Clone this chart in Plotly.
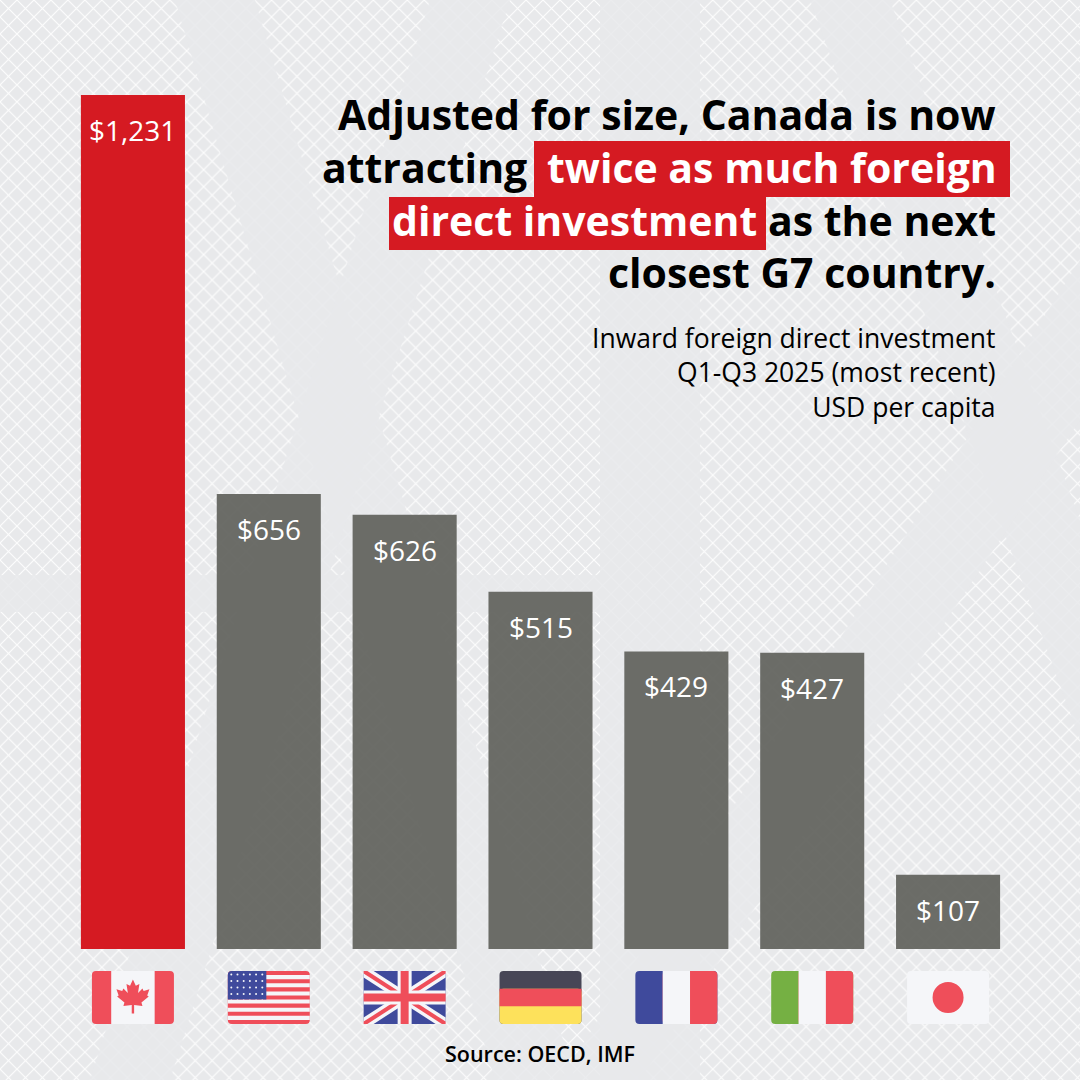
import plotly.graph_objects as go

# data
countries = ["Canada", "United States", "United Kingdom", "Germany", "France", "Italy", "Japan"]
fdi_per_capita = [1231, 656, 626, 515, 429, 427, 107]
highlight = ["Canada"]

title_lines = [
    "Adjusted for size, Canada is now",
    "attracting", "twice as much foreign",
    "direct investment", "as the next",
    "closest G7 country.",
]
subtitle_lines = ["Inward foreign direct investment", "Q1-Q3 2025 (most recent)", "USD per capita"]
source = "Source: OECD, IMF"

RED = "#d51a22"
GREY = "rgb(100,101,96)"
BG = "#e8e9eb"
FONT = "Open Sans"

W = H = 1080
X0, X1 = 65, 1016      # bar area, px
Y0, Y1 = 95, 949
STEP = (X1 - X0) / len(countries)


def fx(px):
    return px / W


def fy(py):
    return 1 - py / H


# flag geometry (px)
FW, FH, FTOP, FR = 82, 53, 971, 4


def pt(i, lx, ly):
    return f"{i + (lx - FW / 2) / STEP:.5f},{fy(FTOP + ly):.5f}"


def poly(i, pts, color):
    p = "M " + " L ".join(pt(i, x, y) for x, y in pts) + " Z"
    return dict(type="path", path=p, xref="x2", yref="paper", fillcolor=color,
                line_width=0, layer="above")


def rrect(i, x0, y0, x1, y1, color, r=(FR, FR, FR, FR)):
    tl, tr, br, bl = r
    p = (f"M {pt(i, x0 + tl, y0)} L {pt(i, x1 - tr, y0)} Q {pt(i, x1, y0)} {pt(i, x1, y0 + tr)} "
         f"L {pt(i, x1, y1 - br)} Q {pt(i, x1, y1)} {pt(i, x1 - br, y1)} "
         f"L {pt(i, x0 + bl, y1)} Q {pt(i, x0, y1)} {pt(i, x0, y1 - bl)} "
         f"L {pt(i, x0, y0 + tl)} Q {pt(i, x0, y0)} {pt(i, x0 + tl, y0)} Z")
    return dict(type="path", path=p, xref="x2", yref="paper", fillcolor=color,
                line_width=0, layer="above")


def rect(i, x0, y0, x1, y1, color):
    return rrect(i, x0, y0, x1, y1, color, r=(0, 0, 0, 0))


def circle(i, cx, cy, rad, color):
    return dict(type="circle", xref="x2", yref="paper",
                x0=i + (cx - rad - FW / 2) / STEP, x1=i + (cx + rad - FW / 2) / STEP,
                y0=fy(FTOP + cy + rad), y1=fy(FTOP + cy - rad),
                fillcolor=color, line_width=0, layer="above")


F_RED, F_BLUE, F_WHITE = "#ef4e5a", "#3f4a9c", "#f5f6f9"
DE_BLACK, DE_YEL, IT_GREEN = "#474656", "#fde15b", "#75b043"

shapes = []

# Canada
shapes += [rrect(0, 0, 0, FW, FH, F_RED), rect(0, FW * 0.235, 0, FW * 0.765, FH, F_WHITE)]
leaf = [(0, 1.0), (0.17, 0.63), (0.38, 0.74), (0.3, 0.2), (0.56, 0.47), (0.63, 0.32),
        (0.97, 0.42), (0.84, 0.06), (0.93, 0.0), (0.5, -0.36), (0.56, -0.56),
        (0.07, -0.5), (0.07, -1.0)]
leaf = leaf + [(-x, y) for x, y in reversed(leaf)]
shapes.append(poly(0, [(FW / 2 + x * 17, FH / 2 - 1 - y * 17) for x, y in leaf], F_RED))

# United States
shapes.append(rrect(1, 0, 0, FW, FH, F_RED))
for k in range(1, 13, 2):
    shapes.append(rect(1, 0, FH * k / 13, FW, FH * (k + 1) / 13, F_WHITE))
shapes.append(rrect(1, 0, 0, FW * 0.47, FH * 7 / 13, F_BLUE, r=(FR, 0, 0, 0)))
for row in range(5):
    for col in range(6):
        shapes.append(circle(1, 3.5 + col * 6.2, 3.5 + row * 6.5, 1.0, F_WHITE))

# United Kingdom
shapes.append(rrect(2, 0, 0, FW, FH, F_BLUE))
for dx, dy, c in [(10, 6.5, F_WHITE), (3.7, 2.4, F_RED)]:
    shapes.append(poly(2, [(0, 0), (dx, 0), (FW, FH - dy), (FW, FH), (FW - dx, FH), (0, dy)], c))
    shapes.append(poly(2, [(FW, 0), (FW, dy), (dx, FH), (0, FH), (0, FH - dy), (FW - dx, 0)], c))
shapes += [rect(2, FW / 2 - 7, 0, FW / 2 + 7, FH, F_WHITE), rect(2, 0, FH / 2 - 7, FW, FH / 2 + 7, F_WHITE),
           rect(2, FW / 2 - 4, 0, FW / 2 + 4, FH, F_RED), rect(2, 0, FH / 2 - 4, FW, FH / 2 + 4, F_RED)]

# Germany
shapes += [rrect(3, 0, 0, FW, FH, DE_BLACK), rrect(3, 0, FH / 3, FW, FH, DE_YEL),
           rect(3, 0, FH / 3, FW, FH * 2 / 3, F_RED)]

# France, Italy
for i, left in [(4, F_BLUE), (5, IT_GREEN)]:
    shapes += [rrect(i, 0, 0, FW, FH, left), rrect(i, FW / 3, 0, FW, FH, F_RED),
               rect(i, FW / 3, 0, FW * 2 / 3, FH, F_WHITE)]

# Japan
shapes += [rrect(6, 0, 0, FW, FH, F_WHITE), circle(6, FW / 2, FH / 2, 15.5, F_RED)]

# title highlight boxes
shapes += [
    dict(type="rect", xref="paper", yref="paper", x0=fx(534), x1=fx(1010), y0=fy(197), y1=fy(141),
         fillcolor=RED, line_width=0, layer="above"),
    dict(type="rect", xref="paper", yref="paper", x0=fx(389), x1=fx(766), y0=fy(250), y1=fy(197),
         fillcolor=RED, line_width=0, layer="above"),
]

fig = go.Figure()

# background texture (pixel axes x/y)
fig.add_trace(go.Scatter(
    x=[0, W, W, 0], y=[0, 0, H, H], fill="toself", mode="none", hoverinfo="skip",
    fillcolor="rgba(0,0,0,0)",
    fillpattern=dict(shape="x", fgcolor="white", bgcolor="rgba(0,0,0,0)", size=12,
                     solidity=0.18, fgopacity=0.9, fillmode="overlay"),
    xaxis="x", yaxis="y", showlegend=False))
bands = [
    [(175, 0), (255, 0), (575, 1080), (495, 1080)],
    [(430, 0), (510, 0), (170, 1080), (90, 1080)],
    [(810, 0), (890, 0), (1080, 520), (1080, 740)],
    [(1080, 260), (1080, 420), (640, 1080), (560, 1080)],
    [(0, 575), (600, 575), (600, 612), (0, 612)],
    [(600, 0), (700, 0), (700, 1080), (600, 1080)],
]
for b in bands:
    fig.add_trace(go.Scatter(
        x=[p[0] for p in b], y=[p[1] for p in b], fill="toself", mode="none",
        fillcolor="rgba(232,233,235,0.85)", hoverinfo="skip", xaxis="x", yaxis="y",
        showlegend=False))

colors = [RED if c in highlight else GREY for c in countries]
fig.add_trace(go.Bar(
    x=countries, y=fdi_per_capita, marker=dict(color=colors, line_width=0),
    width=0.766, xaxis="x2", yaxis="y2", showlegend=False, hoverinfo="skip"))
fig.data[-1].marker.opacity = [1 if c in highlight else 0.95 for c in countries]

annotations = []
for c, v in zip(countries, fdi_per_capita):
    annotations.append(dict(x=c, y=v, xref="x2", yref="y2", text=f"${v:,}", showarrow=False,
                            yanchor="middle", yshift=-35, font=dict(family=FONT, size=28, color="white")))

tfont = dict(family=FONT, size=41, color="black", weight=700)
wfont = dict(family=FONT, size=41, color="white", weight=700)
annotations += [
    dict(x=fx(998), y=fy(114), text=title_lines[0], xanchor="right", font=tfont),
    dict(x=fx(529), y=fy(167), text=title_lines[1], xanchor="right", font=tfont),
    dict(x=fx(999), y=fy(167), text=title_lines[2], xanchor="right", font=wfont),
    dict(x=fx(759), y=fy(220), text=title_lines[3], xanchor="right", font=wfont),
    dict(x=fx(998), y=fy(220), text=title_lines[4], xanchor="right", font=tfont),
    dict(x=fx(998), y=fy(272), text=title_lines[5], xanchor="right", font=tfont),
    dict(x=fx(998), y=fy(373), text="<br>".join(subtitle_lines), xanchor="right", align="right",
         font=dict(family=FONT, size=26.5, color="black")),
    dict(x=fx(540), y=fy(1053), text=source, xanchor="center",
         font=dict(family=FONT, size=21.5, color="black", weight=600)),
]
for a in annotations[len(countries):]:
    a.update(xref="paper", yref="paper", showarrow=False, yanchor="middle")

hidden = dict(visible=False, showgrid=False, zeroline=False, fixedrange=True)
fig.update_layout(
    width=W, height=H, margin=dict(l=0, r=0, t=0, b=0),
    paper_bgcolor=BG, plot_bgcolor="rgba(0,0,0,0)",
    xaxis=dict(domain=[0, 1], range=[0, W], **hidden),
    yaxis=dict(domain=[0, 1], range=[H, 0], **hidden),
    xaxis2=dict(domain=[fx(X0), fx(X1)], range=[-0.5, len(countries) - 0.5], anchor="y2", **hidden),
    yaxis2=dict(domain=[fy(Y1), fy(Y0)], range=[0, max(fdi_per_capita)], anchor="x2", **hidden),
    shapes=shapes, annotations=annotations, showlegend=False,
)

fig.write_html("out.html", config={"displayModeBar": False},
               post_script="document.body.style.margin='0';")
